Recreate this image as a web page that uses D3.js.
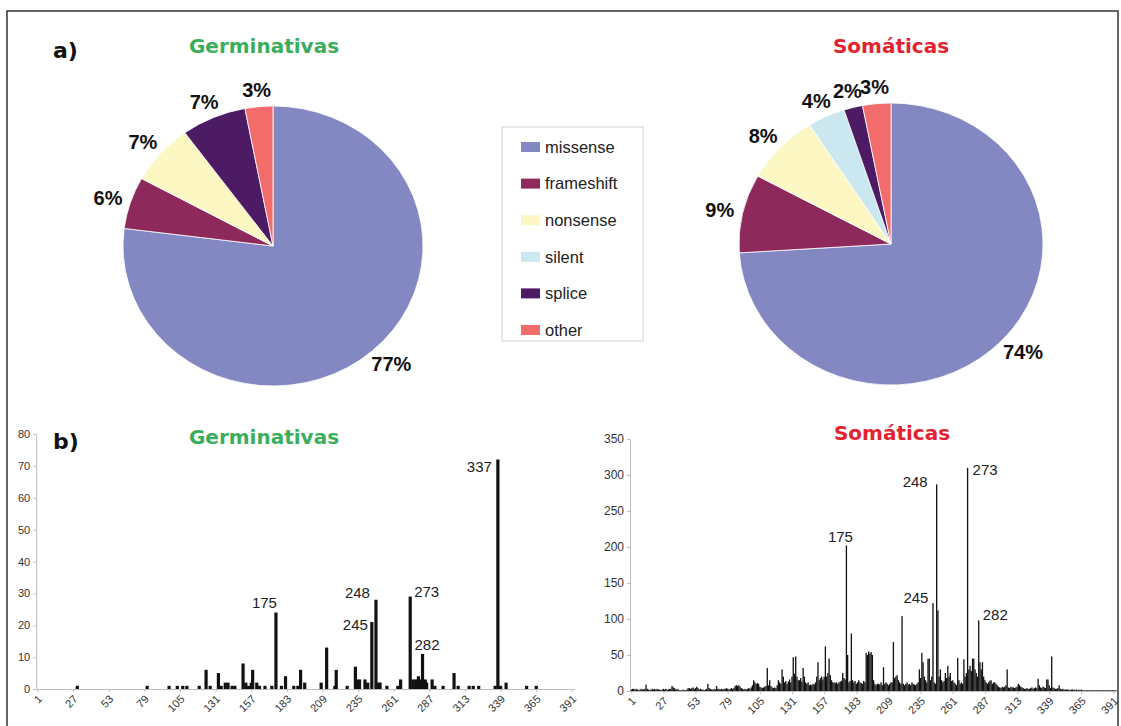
<!DOCTYPE html>
<html>
<head>
<meta charset="utf-8">
<script src="https://cdn.jsdelivr.net/npm/d3@7"></script>
<style>
  body { margin: 0; background: #fff; }
  svg text { font-family: "Liberation Sans", Arial, sans-serif; }
  .title { font-family: "DejaVu Sans", Verdana, sans-serif; font-weight: bold; }
  .pct { font-weight: bold; font-size: 20px; fill: #111; }
  .axis path, .axis line { stroke: #bdbdbd; }
  .axis text { fill: #333; }
  .hot { font-size: 15px; fill: #222; }
</style>
</head>
<body>
<div id="chart"></div>
<script>
// mutation type categories (pie charts + legend)
const categories = ["missense", "frameshift", "nonsense", "silent", "splice", "other"];
const germinalPct = [77, 6, 7, 0, 7, 3];
const somaticPct = [74, 9, 8, 4, 2, 3];
const categoryColors = ["#8488c2", "#8e2a5b", "#fdf7c4", "#cbe7f0", "#4d1b64", "#f26c6c"];

// codon axis
const xTicks = [1, 27, 53, 79, 105, 131, 157, 183, 209, 235, 261, 287, 313, 339, 365, 391];
const germYTicks = [0, 10, 20, 30, 40, 50, 60, 70, 80];
const somYTicks = [0, 50, 100, 150, 200, 250, 300, 350];

// germline mutations per codon
const germResidues = [30, 81, 97, 103, 107, 110, 119, 124, 127, 133, 135, 138, 140, 143, 145,
  151, 153, 155, 157, 158, 161, 163, 167, 172, 175, 179, 182, 188, 191, 193, 196, 208, 212,
  218, 219, 227, 233, 234, 236, 240, 242, 245, 248, 250, 251, 256, 264, 266, 273, 275, 277,
  279, 280, 282, 284, 285, 289, 291, 297, 305, 308, 316, 319, 323, 335, 337, 339, 343, 358, 365];
const germCounts = [1, 1, 1, 1, 1, 1, 1, 6, 1, 5, 1, 2, 2, 1, 1,
  8, 2, 1, 2, 6, 2, 1, 1, 1, 24, 1, 4, 1, 1, 6, 2, 2, 13,
  1, 6, 1, 7, 3, 3, 3, 2, 21, 28, 2, 2, 1, 1, 3, 29, 3, 3,
  4, 3, 11, 3, 2, 3, 1, 1, 5, 1, 1, 1, 1, 1, 72, 1, 2, 1, 1];

// somatic mutations per codon, codons 1..393
const somCounts = [
  2, 3, 3, 2, 3, 2, 1, 2, 3, 2, 2, 3, 9, 3, 2, 1, 2, 3, 2, 3,
  2, 3, 2, 2, 1, 2, 3, 2, 3, 2, 2, 3, 3, 7, 5, 4, 2, 3, 2, 1,
  1, 1, 2, 1, 1, 2, 4, 4, 3, 4, 5, 3, 4, 6, 4, 2, 3, 2, 2, 1,
  2, 3, 10, 4, 3, 2, 2, 3, 2, 7, 3, 3, 2, 3, 2, 3, 3, 4, 3, 2,
  3, 4, 3, 4, 7, 8, 7, 8, 6, 4, 3, 2, 3, 2, 3, 4, 3, 5, 8, 15,
  12, 10, 11, 10, 6, 5, 4, 5, 6, 7, 32, 8, 15, 7, 5, 4, 5, 4, 8, 15,
  12, 10, 30, 20, 12, 14, 10, 13, 16, 12, 20, 47, 24, 48, 20, 15, 15, 18, 13, 32,
  20, 12, 10, 12, 8, 9, 8, 10, 9, 12, 20, 40, 15, 18, 20, 16, 20, 62, 20, 25,
  45, 22, 15, 12, 12, 11, 12, 10, 12, 13, 14, 25, 18, 16, 202, 50, 12, 14, 80, 15,
  12, 14, 10, 12, 15, 12, 11, 10, 14, 12, 53, 50, 55, 52, 54, 50, 15, 10, 8, 10,
  10, 9, 12, 8, 33, 10, 12, 10, 8, 10, 12, 12, 68, 18, 20, 22, 15, 12, 10, 104,
  10, 8, 10, 12, 9, 10, 8, 12, 10, 9, 8, 10, 12, 30, 18, 53, 40, 20, 15, 12,
  45, 45, 15, 20, 122, 12, 10, 287, 112, 20, 30, 15, 12, 14, 25, 18, 35, 20, 25, 14,
  15, 12, 10, 8, 46, 15, 10, 12, 10, 44, 20, 25, 310, 30, 35, 28, 45, 45, 30, 25,
  20, 98, 40, 30, 40, 20, 15, 12, 10, 12, 14, 15, 10, 12, 12, 10, 8, 6, 5, 4,
  6, 5, 6, 8, 30, 5, 4, 6, 5, 5, 4, 5, 6, 10, 8, 6, 5, 4, 3, 3,
  4, 3, 3, 4, 5, 3, 4, 5, 4, 17, 8, 5, 4, 6, 5, 4, 16, 16, 8, 4,
  48, 5, 4, 3, 3, 4, 8, 3, 2, 3, 2, 2, 2, 2, 2, 1, 2, 2, 2, 1,
  2, 1, 2, 1, 2, 1, 1, 1, 1, 1, 1, 1, 1, 1, 1, 1, 1, 1, 1, 1,
  1, 1, 1, 1, 1, 1, 1, 1, 1, 1, 1, 1, 1];

// labelled hotspot codons
const germHotspots = [175, 245, 248, 273, 282, 337];
const somHotspots = [175, 245, 248, 273, 282];

const width = 1121, height = 726;
const green = "#3aae5c", red = "#e3232f";

let svg = d3.select("#chart").append("svg")
  .attr("width", width)
  .attr("height", height);

// outer frame
svg.append("rect")
  .attr("x", 7).attr("y", 11)
  .attr("width", 1111).attr("height", 760)
  .attr("fill", "none")
  .attr("stroke", "#333")
  .attr("stroke-width", 1.5);

//////////////////////
//// a) pie charts ///
//////////////////////

function drawPie(values, geom) {
  let pie = d3.pie().sort(null).value(d => d.v);
  let arcs = pie(values.map((v, i) => ({ v: v, i: i }))).filter(a => a.data.v > 0);
  let arc = d3.arc().innerRadius(0).outerRadius(geom.ry);

  svg.append("g")
    .attr("transform", `translate(${geom.cx},${geom.cy}) scale(${geom.rx / geom.ry},1)`)
    .selectAll("path")
    .data(arcs)
    .join("path")
    .attr("d", arc)
    .attr("fill", d => categoryColors[d.data.i])
    .attr("stroke", "#fff")
    .attr("stroke-width", 0.8)
    .attr("vector-effect", "non-scaling-stroke");

  // percentage labels just outside each slice
  arcs.forEach(a => {
    let th = (a.startAngle + a.endAngle) / 2;
    let s = Math.sin(th), c = Math.cos(th);
    let ax = geom.cx + (geom.rx + 9) * s;
    let ay = geom.cy - (geom.ry + 9) * c;
    let t = svg.append("text")
      .attr("class", "pct")
      .attr("text-anchor", "middle")
      .attr("dy", "0.36em")
      .text(a.data.v + "%");
    let w = t.node().getComputedTextLength();
    t.attr("x", ax + w / 2 * s).attr("y", ay - 8 * c);
  });
}

drawPie(germinalPct, { cx: 273, cy: 246, rx: 150, ry: 140 });
drawPie(somaticPct, { cx: 891, cy: 244, rx: 152, ry: 141 });

svg.append("text").attr("class", "title")
  .attr("x", 53).attr("y", 58).attr("font-size", 22).attr("fill", "#111")
  .text("a)");
svg.append("text").attr("class", "title")
  .attr("x", 264).attr("y", 53).attr("font-size", 20).attr("fill", green)
  .attr("text-anchor", "middle")
  .text("Germinativas");
svg.append("text").attr("class", "title")
  .attr("x", 891).attr("y", 53).attr("font-size", 20).attr("fill", red)
  .attr("text-anchor", "middle")
  .text("Somáticas");

// legend
let legend = svg.append("g").attr("transform", "translate(502,127)");
legend.append("rect")
  .attr("width", 141).attr("height", 214)
  .attr("fill", "#fff")
  .attr("stroke", "#cfcfcf");
let items = legend.selectAll("g.item")
  .data(categories)
  .join("g")
  .attr("class", "item")
  .attr("transform", (d, i) => `translate(19,${20 + i * 36.6})`);
items.append("rect")
  .attr("y", -5).attr("width", 19).attr("height", 10)
  .attr("fill", (d, i) => categoryColors[i]);
items.append("text")
  .attr("x", 24).attr("dy", "0.35em")
  .attr("font-size", 16.5).attr("fill", "#222")
  .text(d => d);

/////////////////////////
//// b) bar histograms //
/////////////////////////

function drawHist(o) {
  let x = d3.scaleLinear().domain([0, 393]).range(o.xRange);
  let y = d3.scaleLinear().domain(o.yDomain).range(o.yRange);

  let g = svg.append("g");

  let yAxis = d3.axisLeft(y).tickValues(o.yTicks).tickSize(3).tickSizeOuter(0).tickPadding(3);
  g.append("g")
    .attr("class", "axis")
    .attr("transform", `translate(${o.xRange[0]},0)`)
    .call(yAxis)
    .selectAll("text").attr("font-size", o.yFont);

  let xAxis = d3.axisBottom(x).tickValues(xTicks).tickSize(3).tickSizeOuter(0);
  let xg = g.append("g")
    .attr("class", "axis")
    .attr("transform", `translate(0,${o.yRange[0]})`)
    .call(xAxis);
  xg.selectAll("text")
    .attr("font-size", 11)
    .attr("text-anchor", "end")
    .attr("x", 0).attr("y", 0)
    .attr("dy", "0.35em")
    .attr("transform", "translate(2,8) rotate(-45)");

  g.append("g")
    .selectAll("rect")
    .data(o.residues.map((r, i) => ({ r: r, v: o.counts[i] })).filter(d => d.v > 0))
    .join("rect")
    .attr("x", d => x(d.r) - o.barW / 2)
    .attr("width", o.barW)
    .attr("y", d => y(d.v))
    .attr("height", d => y(0) - y(d.v))
    .attr("fill", "#111");

  o.hotspots.forEach(r => {
    let v = o.counts[o.residues.indexOf(r)];
    let p = o.labelPos[r];
    g.append("text")
      .attr("class", "hot")
      .attr("x", x(r) + p.dx)
      .attr("y", y(v) + p.dy)
      .attr("text-anchor", p.anchor)
      .text(r);
  });
}

drawHist({
  xRange: [36.2, 574.6],
  yDomain: [0, 80], yRange: [689, 434], yTicks: germYTicks, yFont: 11,
  residues: germResidues, counts: germCounts, barW: 3.2,
  hotspots: germHotspots,
  labelPos: {
    175: { dx: 1, dy: -5, anchor: "end" },
    245: { dx: -4, dy: 8, anchor: "end" },
    248: { dx: -6, dy: -2, anchor: "end" },
    273: { dx: 4, dy: 0, anchor: "start" },
    282: { dx: 4.5, dy: -4, anchor: "middle" },
    337: { dx: -6, dy: 12, anchor: "end" }
  }
});

drawHist({
  xRange: [630, 1116],
  yDomain: [0, 350], yRange: [691, 439], yTicks: somYTicks, yFont: 12,
  residues: d3.range(1, somCounts.length + 1), counts: somCounts, barW: 1.3,
  hotspots: somHotspots,
  labelPos: {
    175: { dx: -6, dy: -3.5, anchor: "middle" },
    245: { dx: -4.5, dy: 0, anchor: "end" },
    248: { dx: -9, dy: 3, anchor: "end" },
    273: { dx: 5, dy: 7, anchor: "start" },
    282: { dx: 4, dy: 0, anchor: "start" }
  }
});

svg.append("text").attr("class", "title")
  .attr("x", 53).attr("y", 449).attr("font-size", 22).attr("fill", "#111")
  .text("b)");
svg.append("text").attr("class", "title")
  .attr("x", 264).attr("y", 444).attr("font-size", 20).attr("fill", green)
  .attr("text-anchor", "middle")
  .text("Germinativas");
svg.append("text").attr("class", "title")
  .attr("x", 892).attr("y", 440).attr("font-size", 20).attr("fill", red)
  .attr("text-anchor", "middle")
  .text("Somáticas");
</script>
</body>
</html>
